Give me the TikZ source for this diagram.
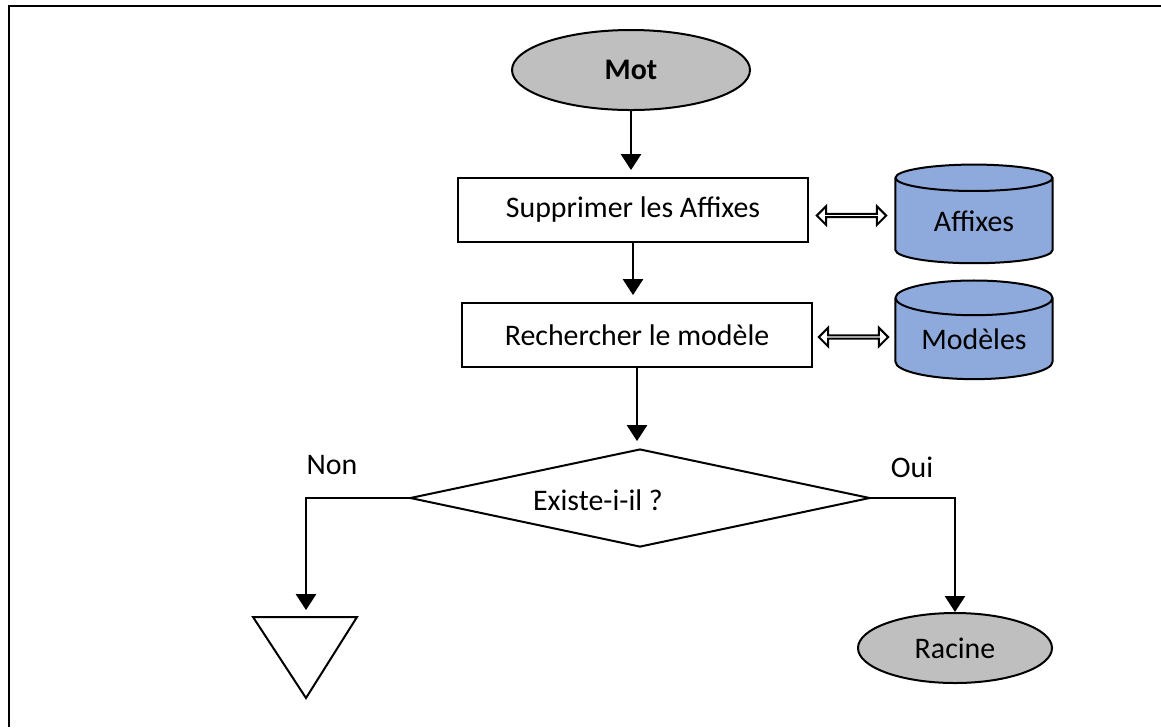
\documentclass[tikz,border=0pt]{standalone}
\usepackage{fontspec}
\setmainfont{Carlito}
\usetikzlibrary{arrows.meta,shapes.geometric,shapes.arrows}
\definecolor{fgray}{HTML}{BFBFBF}
\definecolor{fblue}{HTML}{8EA9DB}

\begin{document}
\begin{tikzpicture}[x=0.375pt, y=-0.375pt, >={Triangle[width=7.5pt,length=6pt]},
    line width=0.75pt, font=\fontsize{11.2}{13}\selectfont,
    term/.style={ellipse, draw, fill=fgray, inner sep=0pt},
    proc/.style={rectangle, draw, minimum width=130.9pt, minimum height=24pt, inner sep=0pt},
    store/.style={cylinder, shape border rotate=90, aspect=0.33, draw, fill=fblue,
                  minimum width=58.9pt, minimum height=37pt, inner sep=0pt},
    dblarrow/.style={double arrow, draw, fill=white, minimum height=26pt,
                     minimum width=7pt, double arrow head extend=1.9pt, inner sep=0pt},
    flow/.style={->, line width=1pt, shorten >=2.6pt}]
  % page: 1161 x 727 px, y going down
  \useasboundingbox (0,0) rectangle (1161,727);
  \draw[line width=1pt] (9,727) -- (9,6) -- (1161,6);

  % main column
  \node[term, minimum width=89.25pt, minimum height=30pt] (mot) at (631,70) {\bfseries Mot};
  \node[proc] (supp) at (633,210) {Supprimer les Affixes};
  \node[proc] (rech) at (637,335) {Rechercher le modèle};
  \node[diamond, draw, minimum width=172.5pt, minimum height=36.75pt, inner sep=0pt] (test) at (640,498) {};
  \node (testlbl) at (598,500) {Existe-i-il ?};

  % stores
  \node[store] (affixes) at (974,221) {Affixes};
  \node[store] (modeles) at (974,339) {Modèles};
  \path (supp.east) -- node[dblarrow] (lienaff) {} (affixes.west);
  \path (rech.east) -- node[dblarrow] (lienmod) {} (modeles.west);

  % outcomes
  \node[term, minimum width=72.75pt, minimum height=26.25pt] (racine) at (955,648) {Racine};
  \coordinate (renvoi) at (306,617);
  \draw (253,617) -- (357,617) -- (306,698) -- cycle;

  \draw[flow] (mot.south) -- (mot.south |- supp.north);
  \draw[flow] (supp.south) -- (supp.south |- rech.north);
  \draw[flow] (rech.south) -- (rech.south |- test.north);
  \draw[flow] (test.west) -| (renvoi);
  \draw[flow, shorten >=0pt] (test.east) -| (racine.north);

  \node (non) at (332,465) {Non};
  \node (oui) at (912,467) {Oui};
\end{tikzpicture}
\end{document}
